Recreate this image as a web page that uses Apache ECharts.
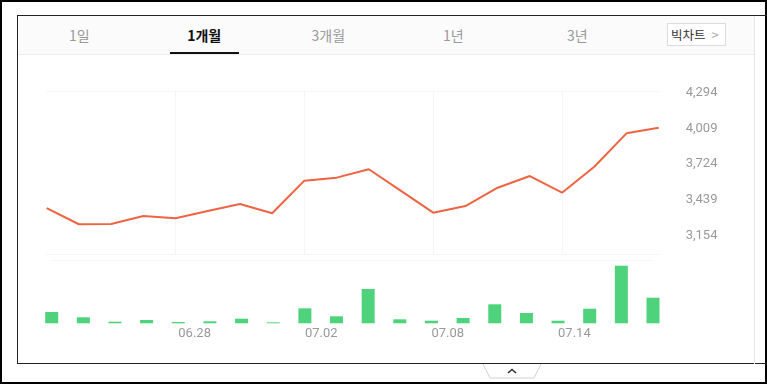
<!DOCTYPE html>
<html><head><meta charset="utf-8">
<script src="https://cdn.jsdelivr.net/npm/echarts@6.0.0/dist/echarts.min.js"></script>
<style>
html,body{margin:0;padding:0;background:#fff;}
#wrap{position:relative;width:767px;height:384px;overflow:hidden;font-family:"Noto Sans CJK KR","Noto Sans",sans-serif;background:#fff;}
#outer{position:absolute;left:0;top:0;width:767px;height:384px;box-sizing:border-box;border:2px solid #000;}
#panel{position:absolute;left:17px;top:15px;width:760px;height:349px;box-sizing:border-box;border:1px solid #222;border-right:none;}
#rline{position:absolute;left:754px;top:16px;width:1px;height:348px;background:#e6e6e6;}
#head{position:absolute;left:18px;top:16px;width:736px;height:38px;background:#fbfbfb;border-bottom:1px solid #ececec;}
.tab{position:absolute;top:0;width:124.5px;height:38px;line-height:38px;text-align:center;font-size:14px;color:#999;}
.tab.on{color:#111;font-weight:bold;}
#uline{position:absolute;left:170px;top:52px;width:69px;height:2px;background:#111;}
#btn{position:absolute;left:667px;top:23px;width:59px;height:23px;box-sizing:border-box;border:1px solid #dcdcdc;background:#fff;font-size:12.5px;color:#333;line-height:21px;padding-left:3px;}
#btn span{color:#aaa;margin-left:6px;font-size:13px;}
#chart{position:absolute;left:0;top:0;width:767px;height:384px;}
#fold{position:absolute;left:482px;top:364px;}
</style></head>
<body><div id="wrap">
<div id="outer"></div>
<div id="panel"></div>
<div id="rline"></div>
<div id="head">
 <div class="tab" style="left:-1px">1일</div>
 <div class="tab on" style="left:124px">1개월</div>
 <div class="tab" style="left:248px">3개월</div>
 <div class="tab" style="left:373px">1년</div>
 <div class="tab" style="left:497px">3년</div>
</div>
<div id="uline"></div>
<div id="btn">빅차트<span>&gt;</span></div>
<svg id="fold" width="62" height="16"><path d="M1 0 L8 14 L52 14 L59 0" fill="#fff" stroke="#d0d0d0" stroke-width="1"/><polyline points="26,9 30,5.5 34,9" fill="none" stroke="#333" stroke-width="1.6"/></svg>
<div id="chart"></div>
</div>
<script>
var dates = ['06.22','06.23','06.24','06.25','06.28','06.29','06.30','07.01','07.02','07.05','07.06','07.07','07.08','07.09','07.12','07.13','07.14','07.15','07.16','07.19'];
var prices = [3374,3245,3247,3311,3292,3351,3406,3332,3592,3616,3683,3511,3337,3390,3536,3629,3496,3703,3969,4014];
var volumes = [113000,60000,16000,33000,13000,20000,46000,10000,150000,70000,343000,40000,26000,53000,190000,103000,26000,146000,576000,256000];
var priceTicks = [3154,3439,3724,4009,4294];

var chart = echarts.init(document.getElementById('chart'), null, {renderer:'canvas'});
var every4 = function(i){ return i % 4 === 0 && i > 0; };
var faint = '#f5f5f5';
chart.setOption({
  animation:false,
  grid:[
    {left:46.7, right:108.3, top:91, height:163},
    {left:51.7, right:114, top:260, height:63.3}
  ],
  xAxis:[
    {type:'category', gridIndex:0, data:dates, boundaryGap:false, position:'bottom',
     axisLine:{show:true, lineStyle:{color:faint}}, axisTick:{show:false}, axisLabel:{show:false},
     splitLine:{show:true, interval:every4, lineStyle:{color:faint}}},
    {type:'category', gridIndex:0, data:dates, boundaryGap:false, position:'top',
     axisLine:{show:true, lineStyle:{color:faint}}, axisTick:{show:false}, axisLabel:{show:false}, splitLine:{show:false}},
    {type:'category', gridIndex:1, data:dates, boundaryGap:false, position:'bottom',
     axisLine:{show:false}, axisTick:{show:false}, splitLine:{show:false},
     axisLabel:{show:true, interval:every4, align:'left', margin:4, color:'#999', fontSize:13, fontFamily:'Roboto'}},
    {type:'category', gridIndex:1, data:dates, boundaryGap:false, position:'top',
     axisLine:{show:true, lineStyle:{color:faint}}, axisTick:{show:false}, axisLabel:{show:false}, splitLine:{show:false}}
  ],
  yAxis:[
    {type:'value', gridIndex:0, position:'right', min:3008, max:4306, splitLine:{show:false},
     axisLine:{show:false}, axisTick:{show:false},
     axisLabel:{show:true, customValues:priceTicks, margin:27, color:'#999', fontSize:13, fontFamily:'Roboto',
       padding:[3,0,0,0],
       formatter:function(v){ return v.toLocaleString('en-US'); }}},
    {type:'value', gridIndex:1, min:0, max:633000, show:false, splitLine:{show:false}}
  ],
  series:[
    {type:'line', xAxisIndex:0, yAxisIndex:0, data:prices, showSymbol:false, symbol:'none',
     lineStyle:{color:'#ee6442', width:2}, itemStyle:{color:'#ee6442'}},
    {type:'bar', xAxisIndex:2, yAxisIndex:1, data:volumes, barWidth:13, clip:false,
     itemStyle:{color:'#4fd27c'}}
  ]
});
</script>
</body></html>
